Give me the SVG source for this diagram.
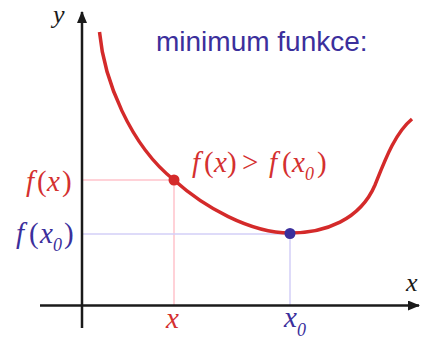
<svg xmlns="http://www.w3.org/2000/svg" width="421" height="339" viewBox="0 0 421 339">
<defs>
<style>
.m{font-family:"Liberation Serif","Times New Roman",serif;font-size:29px}
.i{font-style:italic}
.s{font-size:18px;font-style:italic}
.red{fill:#d4302f}
.blue{fill:#3b2f9c}
.axis{stroke:#1a1a1a;stroke-width:2.5;fill:none}
</style>
<marker id="ah" viewBox="0 0 12 10" refX="11" refY="5" markerWidth="12" markerHeight="10" markerUnits="userSpaceOnUse" orient="auto">
<path d="M0,0 L12,5 L0,10 Z" fill="#1a1a1a"/>
</marker>
</defs>
<rect width="421" height="339" fill="#ffffff"/>
<g id="guides">
<path d="M82,180 H174 V305" fill="none" stroke="#ffc4cc" stroke-width="1.5"/>
<path d="M82,234 H290 V305" fill="none" stroke="#d4d0f8" stroke-width="1.5"/>
</g>
<g id="connectors">
<line class="axis" x1="82" y1="328" x2="82" y2="12" marker-end="url(#ah)"/>
<line class="axis" x1="40" y1="305.5" x2="419" y2="305.5" marker-end="url(#ah)"/>
</g>
<g id="curve">
<path d="M99.5,32 C104,80 130,145 174,180 C204,207 250,233 290,233 C325,233 360,220 375,185 C385,160 395,133 412,119" fill="none" stroke="#d42a2a" stroke-width="3.5"/>
</g>
<g id="point-x">
<circle cx="174" cy="180" r="5.5" fill="#d42a2a"/>
</g>
<g id="point-x0">
<circle cx="290" cy="233.5" r="5.5" fill="#3b2f9c"/>
</g>
<g id="title">
<text x="156" y="51" font-family="'Liberation Sans',Arial,sans-serif" font-size="28" class="blue">minimum funkce:</text>
</g>
<g id="label-y">
<text x="53" y="23" class="m i" fill="#1a1a1a" style="font-size:26px">y</text>
</g>
<g id="label-xaxis">
<text x="406" y="291" class="m i" fill="#1a1a1a" style="font-size:26px">x</text>
</g>
<g id="label-fx">
<text class="m red" y="191"><tspan class="i" x="26">f</tspan><tspan x="37">(</tspan><tspan class="i" x="47">x</tspan><tspan x="62">)</tspan></text>
</g>
<g id="label-fx0">
<text class="m blue" y="243"><tspan class="i" x="16">f</tspan><tspan x="29">(</tspan><tspan class="i" x="40">x</tspan><tspan class="s" x="53" y="251">0</tspan><tspan x="64" y="243">)</tspan></text>
</g>
<g id="label-ineq">
<text class="m red" y="172"><tspan class="i" x="192">f</tspan><tspan x="204">(</tspan><tspan class="i" x="214">x</tspan><tspan x="227">)</tspan><tspan x="242">&gt;</tspan><tspan class="i" x="269">f</tspan><tspan x="282">(</tspan><tspan class="i" x="292">x</tspan><tspan class="s" x="305" y="180">0</tspan><tspan x="317" y="172">)</tspan></text>
</g>
<g id="label-x">
<text class="m i red" x="166" y="328">x</text>
</g>
<g id="label-x0">
<text class="m blue" y="327"><tspan class="i" x="284">x</tspan><tspan class="s" x="297" y="336">0</tspan></text>
</g>
</svg>
